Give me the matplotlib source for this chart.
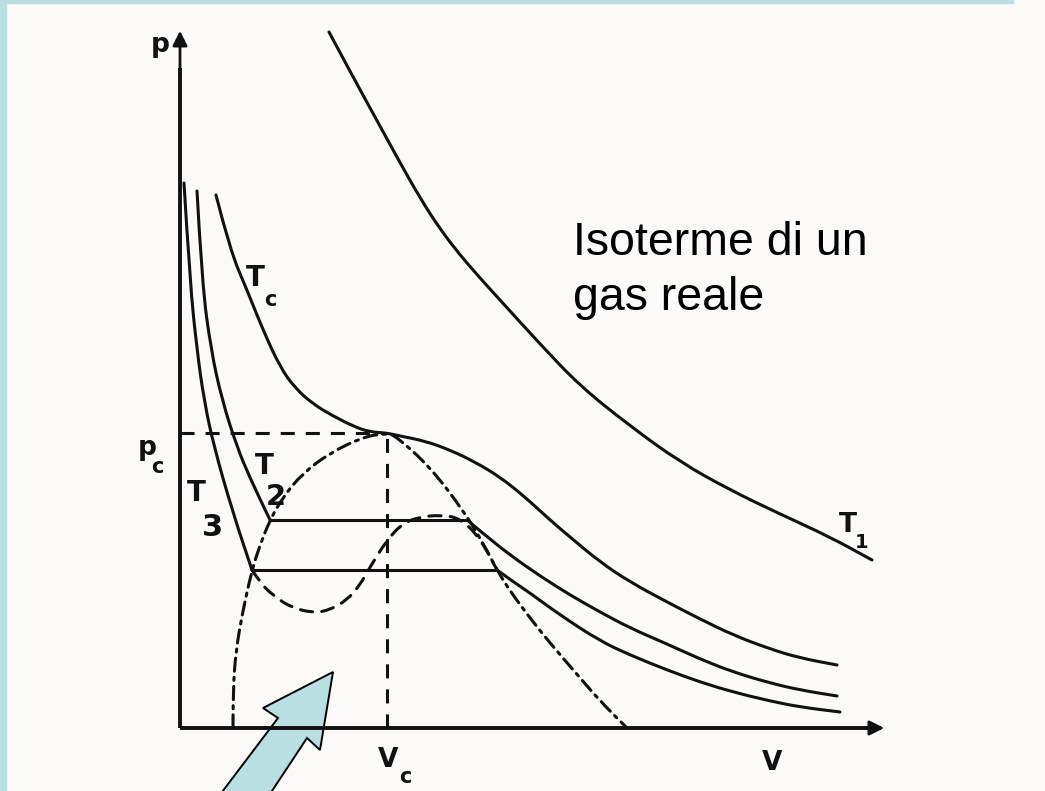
import numpy as np
import matplotlib.pyplot as plt
from matplotlib.patches import Polygon, Rectangle, PathPatch
from matplotlib.path import Path

# Isotherms of a real gas (Andrews diagram), hand-drawn style.
# V and p in drawing units; the critical point sits at (VC, PC).
VC = 2.07
PC = 2.95

t1_v = [1.49, 1.72, 1.95, 2.18, 2.40, 2.60, 2.80, 3.00, 3.20, 3.60, 4.00, 4.50, 5.00,
        5.50, 6.00, 6.50, 6.92]
t1_p = [6.96, 6.53, 6.11, 5.69, 5.30, 4.99, 4.73, 4.50, 4.28, 3.84, 3.42, 3.02, 2.66,
        2.38, 2.14, 1.91, 1.68]

tc_v = [0.36, 0.50, 0.67, 0.83, 1.00, 1.15, 1.33, 1.53, 1.75, 1.90, 2.07, 2.20, 2.45,
        2.70, 2.95, 3.20, 3.45, 3.70, 3.90, 4.20, 4.50, 4.87, 5.20, 5.53, 5.90, 6.20,
        6.57]
tc_p = [5.33, 4.78, 4.38, 3.98, 3.61, 3.40, 3.24, 3.12, 3.01, 2.96, 2.95, 2.92, 2.87,
        2.78, 2.66, 2.51, 2.31, 2.08, 1.91, 1.66, 1.46, 1.26, 1.09, 0.93, 0.79, 0.70,
        0.63]

# T2: liquid branch, flat step, vapour branch
t2l_v = [0.17, 0.22, 0.31, 0.42, 0.57, 0.70, 0.90]
t2l_p = [5.37, 4.45, 3.78, 3.28, 2.81, 2.50, 2.08]
t2r_v = [2.87, 3.05, 3.30, 3.60, 3.90, 4.20, 4.50, 4.87, 5.20, 5.53, 5.90, 6.20, 6.57]
t2r_p = [2.08, 1.93, 1.73, 1.52, 1.33, 1.16, 1.00, 0.84, 0.69, 0.56, 0.45, 0.38, 0.32]

# T3: liquid branch, flat step, vapour branch
t3l_v = [0.04, 0.10, 0.17, 0.24, 0.34, 0.53, 0.72]
t3l_p = [5.45, 4.45, 3.78, 3.28, 2.81, 2.15, 1.58]
t3r_v = [3.17, 3.35, 3.50, 3.80, 4.20, 4.50, 4.87, 5.20, 5.53, 5.90, 6.20, 6.60]
t3r_p = [1.58, 1.45, 1.35, 1.13, 0.87, 0.73, 0.58, 0.46, 0.36, 0.27, 0.21, 0.16]

# van der Waals loop of T3 under the flat step
loop_v = [0.72, 0.82, 0.93, 1.10, 1.33, 1.50, 1.67, 1.80, 1.90, 2.07, 2.23, 2.40,
          2.60, 2.80, 3.00, 3.17]
loop_p = [1.58, 1.43, 1.33, 1.21, 1.15, 1.18, 1.28, 1.43, 1.61, 1.88, 2.05, 2.11,
          2.13, 2.10, 1.90, 1.58]

# saturation dome
dome_v = [0.53, 0.53, 0.56, 0.63, 0.72, 0.80, 0.90, 1.03, 1.23, 1.50, 1.83, 2.07,
          2.17, 2.50, 2.83, 3.03, 3.17, 3.30, 3.50, 3.70, 3.95, 4.20, 4.47]
dome_p = [0.00, 0.38, 0.78, 1.18, 1.58, 1.83, 2.08, 2.31, 2.55, 2.75, 2.91, 2.95,
          2.91, 2.61, 2.18, 1.85, 1.58, 1.37, 1.10, 0.85, 0.56, 0.27, 0.00]

# arrow pointing into the two-phase region
arrow_v = [1.53, 1.40, 1.27, 0.86, 0.36, 0.98, 0.83]
arrow_p = [0.56, -0.22, -0.10, -0.72, -0.72, 0.10, 0.20]

INK = "#111111"
LW = 2.2


def smooth_curve(ax, v, p, **kw):
    """Draw a smooth pen stroke through the points (quadratic Bezier via midpoints)."""
    pts = np.column_stack([v, p])
    verts = [pts[0]]
    codes = [Path.MOVETO]
    for i in range(1, len(pts) - 1):
        verts += [pts[i], (pts[i] + pts[i + 1]) / 2]
        codes += [Path.CURVE3, Path.CURVE3]
    verts.append(pts[-1])
    codes.append(Path.LINETO)
    patch = PathPatch(Path(verts, codes), fill=False, edgecolor=INK,
                      capstyle="round", joinstyle="round", **kw)
    ax.add_patch(patch)
    return patch


fig = plt.figure(figsize=(10.45, 7.91), dpi=100)
fig.patch.set_facecolor("#fcf9f9")
fig.patches.append(Rectangle((0, 0), 6 / 1045, 1, transform=fig.transFigure,
                             color="#b9dfe2", zorder=0))
fig.patches.append(Rectangle((0, 1 - 3 / 791), 1013 / 1045, 3 / 791,
                             transform=fig.transFigure, color="#b9dfe2", zorder=0))

ax = fig.add_axes([0, 0, 1, 1])
ax.set_xlim(-1.80, 8.65)
ax.set_ylim(-0.63, 7.28)
ax.axis("off")

# axes with arrow heads
ax.plot([0, 0], [0, 6.6], color=INK, lw=2.8, solid_capstyle="butt")
ax.plot([0, 6.9], [0, 0], color=INK, lw=2.8, solid_capstyle="butt")
ax.annotate("", xy=(0, 7.0), xytext=(0, 6.5),
            arrowprops=dict(arrowstyle="-|>", color=INK, lw=2.0, mutation_scale=22))
ax.annotate("", xy=(7.07, 0), xytext=(6.6, 0),
            arrowprops=dict(arrowstyle="-|>", color=INK, lw=2.0, mutation_scale=22))

# isotherms
for v, p in [(t1_v, t1_p), (tc_v, tc_p), (t2l_v, t2l_p), (t2r_v, t2r_p),
             (t3l_v, t3l_p), (t3r_v, t3r_p)]:
    smooth_curve(ax, v, p, lw=LW)
ax.plot([t2l_v[-1], t2r_v[0]], [t2l_p[-1], t2r_p[0]], color=INK, lw=LW,
        solid_capstyle="round")
ax.plot([t3l_v[-1], t3r_v[0]], [t3l_p[-1], t3r_p[0]], color=INK, lw=LW,
        solid_capstyle="round")

# critical coordinates, loop and dome
dash = (0, (4.6, 3.6))
dashdot = (0, (4.3, 2.0, 1.0, 2.0))
ax.plot([0, VC], [PC, PC], color=INK, lw=LW, ls=dash)
ax.plot([VC, VC], [0, PC], color=INK, lw=LW, ls=dash)
smooth_curve(ax, loop_v, loop_p, lw=LW, ls=(0, (4.0, 3.0)))
smooth_curve(ax, dome_v, dome_p, lw=LW, ls=dashdot)

ax.add_patch(Polygon(np.column_stack([arrow_v, arrow_p]), closed=True,
                     facecolor="#b9dfe2", edgecolor="black", lw=1.4, clip_on=False))

# hand lettering
lab = dict(color=INK, fontweight="bold", family="DejaVu Sans", ha="center", va="center")
ax.text(-0.20, 6.83, "p", fontsize=19, **lab)
ax.text(-0.33, 2.80, "p", fontsize=19, **lab)
ax.text(-0.23, 2.61, "c", fontsize=15, **lab)
ax.text(0.75, 4.50, "T", fontsize=20, **lab)
ax.text(0.90, 4.28, "c", fontsize=15, **lab)
ax.text(0.84, 2.62, "T", fontsize=20, **lab)
ax.text(0.96, 2.31, "2", fontsize=21, **lab)
ax.text(0.16, 2.35, "T", fontsize=20, **lab)
ax.text(0.33, 2.01, "3", fontsize=22, **lab)
ax.text(6.68, 2.03, "T", fontsize=19, **lab)
ax.text(6.82, 1.85, "1", fontsize=14, **lab)
ax.text(2.08, -0.32, "V", fontsize=19, **lab)
ax.text(2.25, -0.49, "c", fontsize=15, **lab)
ax.text(5.92, -0.35, "V", fontsize=19, **lab)

txt = dict(color="black", family="Liberation Sans", fontsize=33.5, ha="left",
           va="baseline")
ax.text(3.93, 4.73, "Isoterme di un", **txt)
ax.text(3.93, 4.18, "gas reale", **txt)

fig.savefig("out.png", dpi=100, facecolor=fig.get_facecolor())
